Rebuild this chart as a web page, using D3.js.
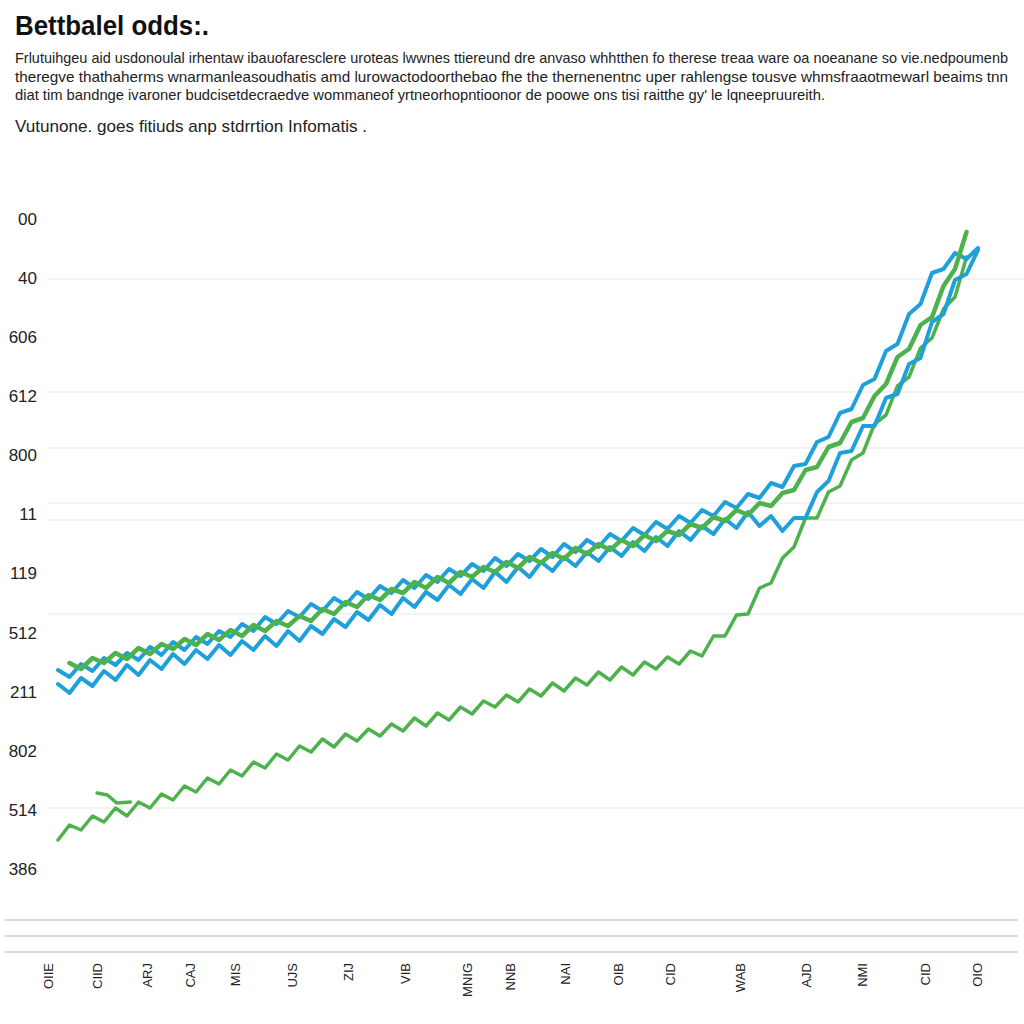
<!DOCTYPE html>
<html>
<head>
<meta charset="utf-8">
<script src="https://cdn.jsdelivr.net/npm/d3@7"></script>
<style>
  html, body { margin: 0; padding: 0; background: #ffffff; }
  svg { display: block; }
</style>
</head>
<body>
<svg id="chart" width="1024" height="1024"></svg>
<script>
// ---- text ----
const titleText = "Bettbalel odds:.";
const paragraphLines = [
  "Frlutuihgeu aid usdonoulal irhentaw ibauofaresclere uroteas lwwnes ttiereund dre anvaso whhtthen fo therese treaa ware oa noeanane so vie.nedpoumenb",
  "theregve thathaherms wnarmanleasoudhatis amd lurowactodoorthebao fhe the thernenentnc uper rahlengse tousve whmsfraaotmewarl beaims tnn",
  "diat tim bandnge ivaroner budcisetdecraedve wommaneof yrtneorhopntioonor de poowe ons tisi raitthe gy' le lqneepruureith."
];
const subtitleText = "Vutunone. goes fitiuds anp stdrrtion Infomatis .";

// ---- axes ----
const yTickLabels = ["386", "514", "802", "211", "512", "119", "11", "800", "612", "606", "40", "00"]; // bottom -> top
const gridValues = [590, 477, 421, 366, 349, 255, 61];
const xTickLabels = ["OIIE", "CIID", "ARJ", "CAJ", "MIS", "UJS", "ZIJ", "VIB", "MNIG", "NNB", "NAI", "OIB", "CID", "WAB", "AJD", "NMI", "CID", "OIO"];
const xTickValues = [-0.9, 3.4, 7.7, 11.5, 15.4, 20.3, 25.2, 30.2, 35.6, 39.3, 44.1, 48.7, 53.2, 59.3, 65, 69.9, 75.4, 79.9];

// ---- series (x = index step) ----
const blueAStart = 0;
const blueA = [199,192,205,198,211,204,216,209,222,214,227,219,232,225,238,232,245,238,252,245,258,252,265,258,271,264,277,270,283,276,289,281,294,287,300,293,305,298,311,303,315,308,320,312,325,317,329,322,335,328,341,334,347,340,353,346,359,353,367,361,375,371,386,382,403,405,427,432,456,460,484,490,518,525,555,565,596,600,616,610,621];

const blueBStart = 0;
const blueB = [185,176,191,183,198,189,204,194,209,200,215,205,219,210,224,214,228,219,233,223,238,228,243,235,250,242,257,249,264,255,271,262,277,269,284,275,290,281,297,287,302,292,307,298,312,303,317,308,322,313,327,318,332,323,338,329,343,335,350,341,357,343,353,338,351,351,377,388,416,418,443,443,471,475,505,511,547,555,589,595,619];

const greenMainStart = 1;
const greenMain = [206,200,211,206,216,210,221,215,225,220,230,224,235,229,239,233,244,238,248,243,253,248,260,255,267,262,274,269,280,276,287,281,292,286,297,292,302,297,307,301,312,306,316,310,321,315,325,319,329,323,334,328,338,334,345,341,352,348,359,354,366,363,376,379,399,402,422,426,447,451,473,485,512,520,544,552,583,600,637];

const greenLowStart = 0;
const greenLow = [29,44,39,53,47,61,53,67,61,75,69,83,77,91,85,99,93,107,101,115,109,123,117,130,122,135,128,140,133,145,138,151,143,156,149,162,155,168,162,174,167,180,173,186,178,191,184,197,189,202,194,207,200,212,205,218,213,233,233,254,255,281,286,311,322,351,351,377,383,409,416,445,454,483,492,521,531,560,572,612];

const fragmentX = [3.4, 4.3, 5.1, 6.3];
const fragmentY = [76, 74, 66, 67];

// ---- drawing ----
const svg = d3.select("#chart");
const W = 1024;
const blue = "#1fa0da";
const green = "#4db24c";

svg.append("rect").attr("width", W).attr("height", 1024).attr("fill", "#ffffff");

// title + text
svg.append("text").attr("x", 15).attr("y", 35)
  .attr("font-family", "Liberation Sans, Arial, sans-serif")
  .attr("font-weight", "bold").attr("font-size", 28).attr("fill", "#111")
  .attr("textLength", 194).attr("lengthAdjust", "spacingAndGlyphs")
  .text(titleText);

const paraWidths = [993, 993, 810];
paragraphLines.forEach((t, i) => {
  svg.append("text").attr("x", 15).attr("y", 63 + i * 18.5)
    .attr("font-family", "Liberation Sans, Arial, sans-serif")
    .attr("font-size", 14.5).attr("fill", "#222")
    .attr("textLength", paraWidths[i]).attr("lengthAdjust", "spacingAndGlyphs")
    .text(t);
});

svg.append("text").attr("x", 15).attr("y", 132)
  .attr("font-family", "Liberation Sans, Arial, sans-serif")
  .attr("font-size", 17).attr("fill", "#222")
  .attr("textLength", 352).attr("lengthAdjust", "spacingAndGlyphs")
  .text(subtitleText);

// scales
const x = d3.scaleLinear().domain([0, 80]).range([58, 978]);
const y = d3.scaleLinear().domain([0, 650]).range([869, 219]);
const yTickVals = yTickLabels.map((d, i) => i * 650 / 11);

// gridlines
svg.append("g").selectAll("line").data(gridValues).join("line")
  .attr("x1", 48).attr("x2", W)
  .attr("y1", d => y(d)).attr("y2", d => y(d))
  .attr("stroke", "#e8e8e8").attr("stroke-width", 1.2);

// y axis
const yAxis = d3.axisLeft(y).tickValues(yTickVals)
  .tickFormat((d, i) => yTickLabels[i]).tickSize(0).tickPadding(0);
const yg = svg.append("g").attr("transform", "translate(37,0)").call(yAxis);
yg.select(".domain").remove();
yg.selectAll("text").attr("font-family", "Liberation Sans, Arial, sans-serif")
  .attr("font-size", 17).attr("fill", "#222");

// bottom rules
[920, 936, 952].forEach(py => {
  svg.append("line").attr("x1", 5).attr("x2", 1018).attr("y1", py).attr("y2", py)
    .attr("stroke", "#cfcfcf").attr("stroke-width", 1.5);
});

// x axis labels
const xAxis = d3.axisBottom(x).tickValues(xTickValues)
  .tickFormat((d, i) => xTickLabels[i]).tickSize(0).tickPadding(0);
const xg = svg.append("g").attr("transform", "translate(0,963)").call(xAxis);
xg.select(".domain").remove();
xg.selectAll("text")
  .attr("font-family", "Liberation Sans, Arial, sans-serif")
  .attr("font-size", 13).attr("fill", "#222")
  .attr("transform", "rotate(-90)")
  .attr("text-anchor", "end").attr("dy", "0.35em").attr("y", 0).attr("x", 0);

// lines
const line = d3.line().x(d => x(d[0])).y(d => y(d[1]));
function pts(arr, start) { return arr.map((v, i) => [start + i, v]); }

const g = svg.append("g").attr("fill", "none")
  .attr("stroke-linejoin", "round").attr("stroke-linecap", "round");

g.append("path").attr("d", line(pts(greenLow, greenLowStart)))
  .attr("stroke", green).attr("stroke-width", 3.5);
g.append("path").attr("d", line(fragmentX.map((d, i) => [d, fragmentY[i]])))
  .attr("stroke", green).attr("stroke-width", 3.5);
g.append("path").attr("d", line(pts(blueB, blueBStart)))
  .attr("stroke", blue).attr("stroke-width", 4);
g.append("path").attr("d", line(pts(blueA, blueAStart)))
  .attr("stroke", blue).attr("stroke-width", 4);
g.append("path").attr("d", line(pts(greenMain, greenMainStart)))
  .attr("stroke", green).attr("stroke-width", 4.5);
</script>
</body>
</html>
